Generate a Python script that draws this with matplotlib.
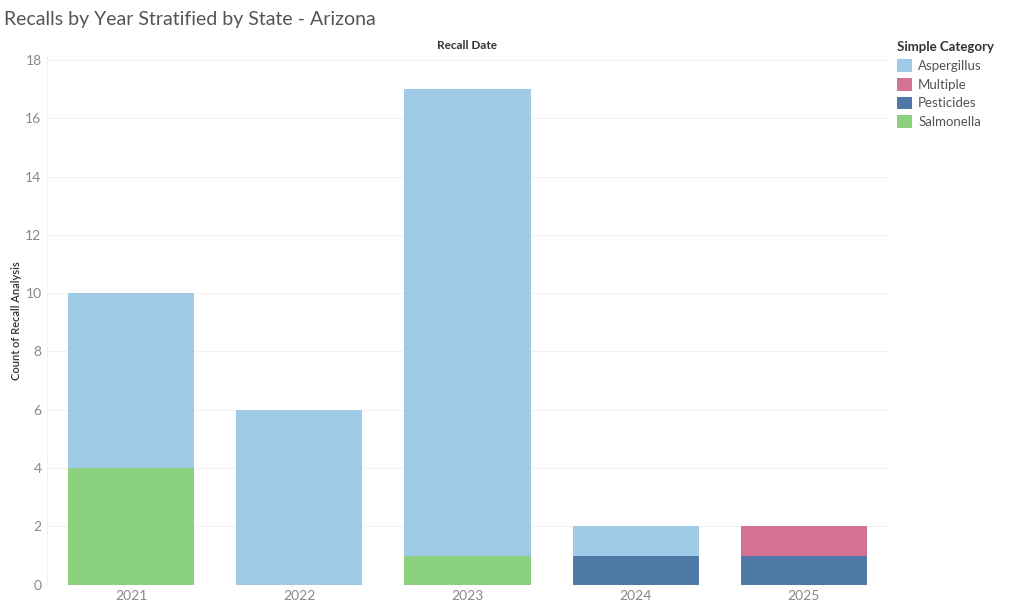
import numpy as np
import matplotlib.pyplot as plt
from matplotlib.patches import Patch

plt.rcParams['font.family'] = ['Lato', 'DejaVu Sans']

years = ['2021', '2022', '2023', '2024', '2025']
categories = ['Aspergillus', 'Multiple', 'Pesticides', 'Salmonella']
colors = {'Aspergillus': '#A0CBE8', 'Multiple': '#D37295',
          'Pesticides': '#4E79A7', 'Salmonella': '#8CD17D'}

# stacked from bottom: Pesticides / Salmonella first, then Aspergillus / Multiple
salmonella = [4, 0, 1, 0, 0]
pesticides = [0, 0, 0, 1, 1]
aspergillus = [6, 6, 16, 1, 0]
multiple = [0, 0, 0, 0, 1]

fig = plt.figure(figsize=(10.24, 6.06), dpi=100)
ax = fig.add_axes([0.046, 0.035, 0.821, 0.871])

x = np.arange(len(years))
w = 0.75
bottom = np.zeros(len(years))
for name, vals in [('Salmonella', salmonella), ('Pesticides', pesticides),
                   ('Aspergillus', aspergillus), ('Multiple', multiple)]:
    vals = np.array(vals)
    ax.bar(x, vals, w, bottom=bottom, color=colors[name], zorder=2)
    bottom += vals

ax.set_xlim(-0.5, 4.5)
ax.set_ylim(0, 18.1)
ax.set_yticks(range(0, 19, 2))
ax.set_xticks(x)
ax.set_xticklabels(years)
ax.tick_params(axis='both', length=0, colors='#888888', labelsize=10)
ax.tick_params(axis='y', pad=4)
ax.grid(axis='y', color='#f2f2f2', linewidth=0.8, zorder=0)
for s in ['top', 'right', 'bottom']:
    ax.spines[s].set_visible(False)
ax.spines['left'].set_color('#f2f2f2')
ax.axhline(0, color='#f0f0f0', linewidth=0.8, zorder=1)

ax.set_ylabel('Count of Recall Analysis', fontsize=8, color='#333333',
              fontweight='semibold')
ax.yaxis.set_label_coords(-0.03, 0.5)
ax.set_title('Recall Date', fontsize=8.5, color='#333333', fontweight='bold', pad=6)

fig.text(0.004, 0.968, 'Recalls by Year Stratified by State - Arizona',
         fontsize=14, color='#555555', va='center', ha='left')

handles = [Patch(facecolor=colors[c], edgecolor='none', label=c) for c in categories]
leg = fig.legend(handles=handles, loc='upper left', bbox_to_anchor=(0.876, 0.932),
                 frameon=False, title='Simple Category', fontsize=9.5,
                 title_fontsize=9.5, handlelength=1.1, handleheight=1.1,
                 handletextpad=0.5, labelspacing=0.45, alignment='left',
                 borderaxespad=0, borderpad=0)
leg.get_title().set_fontweight('bold')
leg.get_title().set_color('#333333')
for t in leg.get_texts():
    t.set_color('#555555')

fig.savefig('out.png', dpi=100)
